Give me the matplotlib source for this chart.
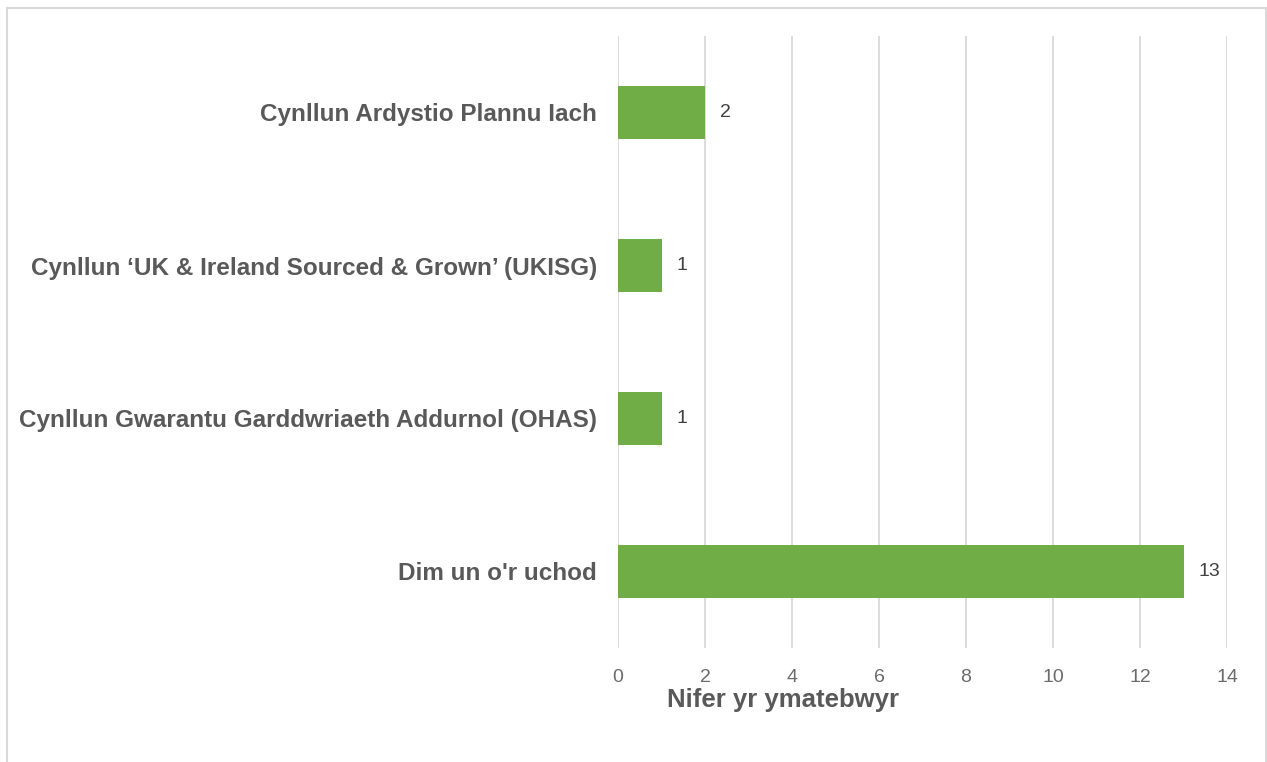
import matplotlib.pyplot as plt
from matplotlib.lines import Line2D

categories = ["Cynllun Ardystio Plannu Iach",
              "Cynllun \u2018UK & Ireland Sourced & Grown\u2019 (UKISG)",
              "Cynllun Gwarantu Garddwriaeth Addurnol (OHAS)",
              "Dim un o'r uchod"]
values = [2, 1, 1, 13]
xticks = [0, 2, 4, 6, 8, 10, 12, 14]

plt.rcParams['font.family'] = ['Liberation Sans', 'DejaVu Sans']

W, H = 1267, 762
fig = plt.figure(figsize=(W / 100, H / 100), dpi=100)
ax = fig.add_axes([618 / W, 1 - 648 / H, 609 / W, 612 / H])

# ordem de cima para baixo
pos = list(range(len(categories)))
ax.barh(pos, values, height=0.35, color='#70AD47', zorder=3)
for p, v in zip(pos, values):
    ax.text(v + 0.35, p, str(v), va='center', ha='left', fontsize=14, color='#404040')

ax.set_ylim(len(categories) - 0.5, -0.5)
ax.set_xlim(0, 14)
ax.set_yticks(pos)
ax.set_yticklabels(categories, fontsize=17.5, fontweight='bold', color='#595959')
ax.set_xticks(xticks)
ax.set_xticklabels([str(t) for t in xticks], fontsize=14, color='#6b6b6b')
ax.tick_params(axis='both', length=0)
ax.tick_params(axis='x', pad=15)
ax.tick_params(axis='y', pad=15)
ax.grid(axis='x', color='#D9D9D9', linewidth=1.3, zorder=0)
for s in ax.spines.values():
    s.set_visible(False)

fig.text(783 / W, 1 - 700 / H, "Nifer yr ymatebwyr", ha='center', va='center',
         fontsize=18.5, fontweight='bold', color='#595959')

# moldura cinza em volta
bc = '#D9D9D9'
fig.add_artist(Line2D([7 / W, 7 / W], [0, 1 - 8 / H], color=bc, lw=1.5, transform=fig.transFigure))
fig.add_artist(Line2D([7 / W, 1266 / W], [1 - 8 / H, 1 - 8 / H], color=bc, lw=1.5, transform=fig.transFigure))
fig.add_artist(Line2D([1266 / W, 1266 / W], [0, 1 - 8 / H], color=bc, lw=1.5, transform=fig.transFigure))

fig.savefig('out.png', dpi=100)
